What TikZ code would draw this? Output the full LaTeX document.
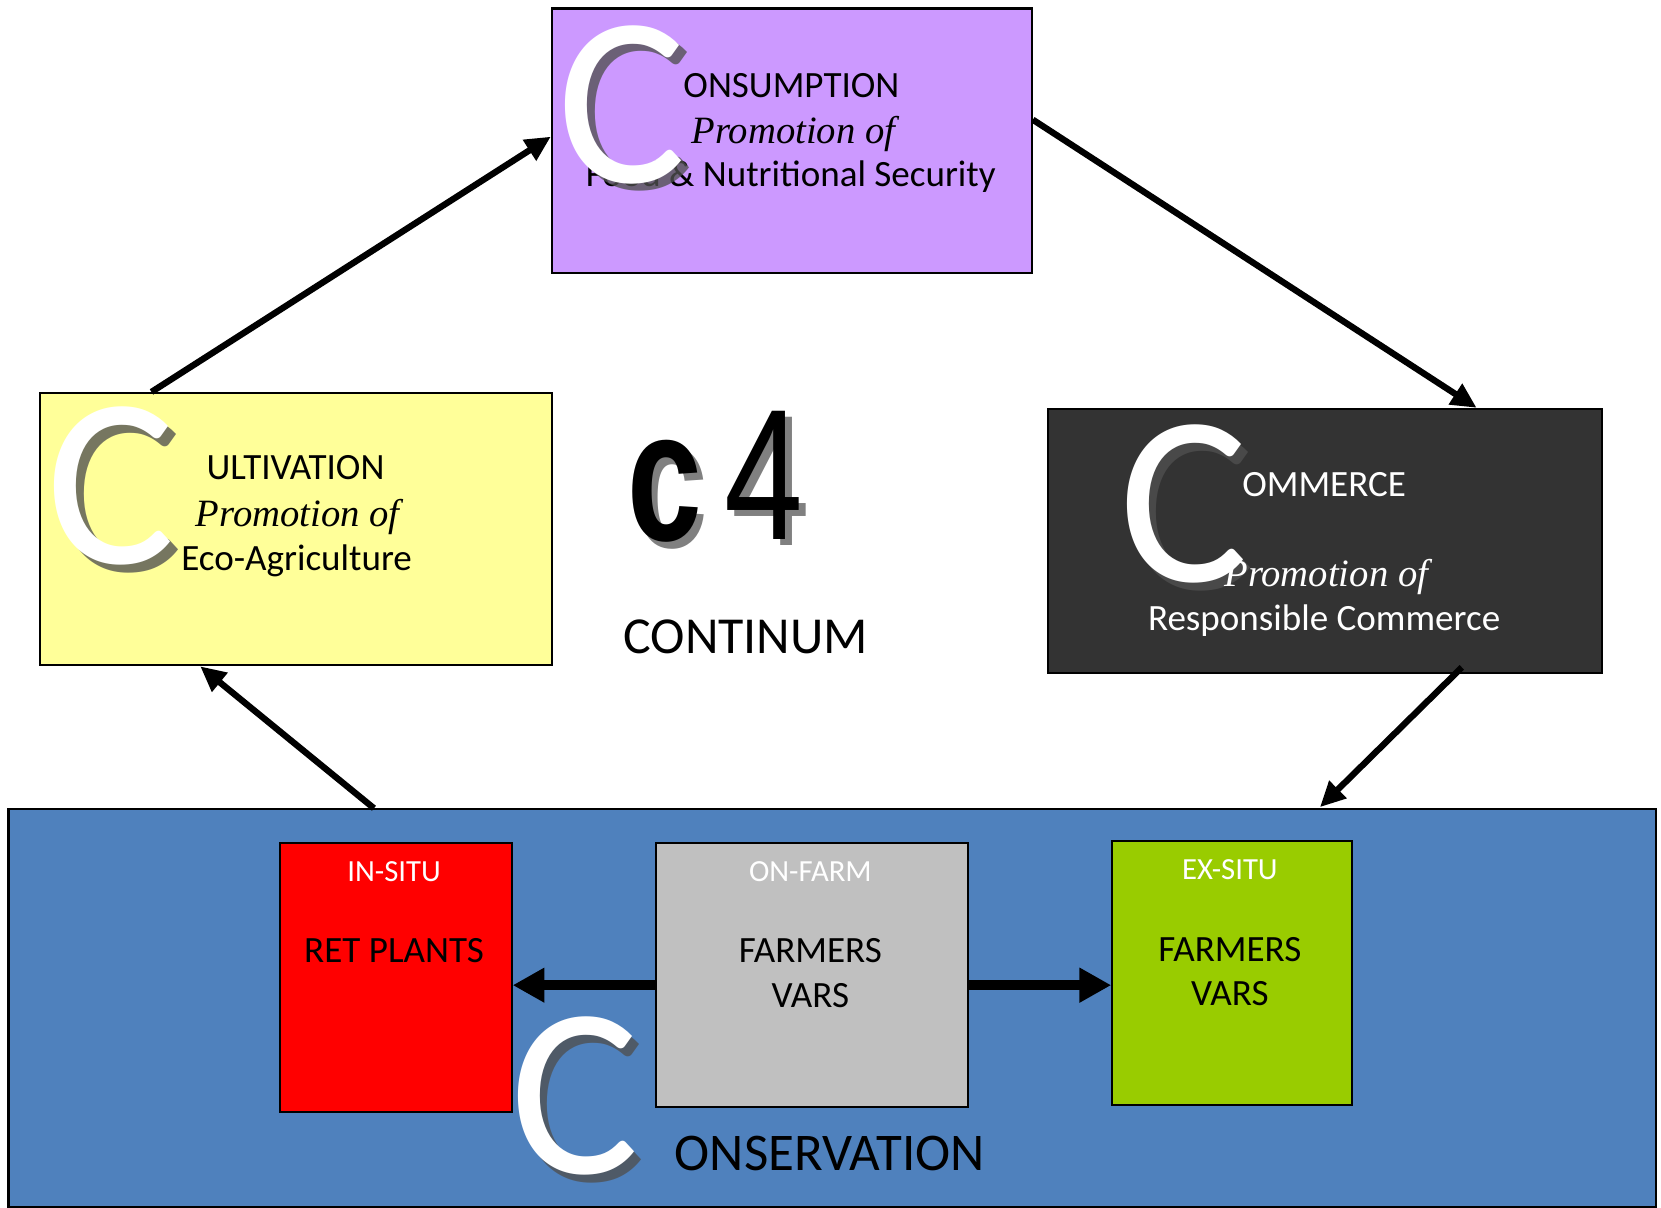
\documentclass[tikz,border=0pt]{standalone}
\usepackage{fontspec}
\setmainfont{Carlito}
\newfontfamily\serifit{Liberation Serif}
\newfontfamily\arialf{Liberation Sans}
\usetikzlibrary{arrows.meta,calc}
\definecolor{consfill}{HTML}{CC99FF}
\definecolor{cultfill}{HTML}{FFFF99}
\definecolor{commfill}{HTML}{333333}
\definecolor{bluefill}{HTML}{4F81BD}
\definecolor{redfill}{HTML}{FF0000}
\definecolor{greyfill}{HTML}{C0C0C0}
\definecolor{greenfill}{HTML}{99CC00}
\definecolor{shadowgray}{HTML}{505050}
\definecolor{cfourshadow}{HTML}{808080}
\tikzset{
  box/.style={draw=black, line width=2pt, inner sep=0pt, anchor=north west},
  txt/.style={inner sep=0pt, anchor=base, font=\fontsize{35}{42}\selectfont},
  small/.style={inner sep=0pt, anchor=base, font=\fontsize{29}{35}\selectfont},
  promo/.style={inner sep=0pt, anchor=base, font=\serifit\itshape\fontsize{36.5}{42}\selectfont},
  bigc/.style={inner sep=0pt, anchor=center, font=\fontsize{228}{228}\selectfont, text=white},
  bigcshadow/.style={bigc, text=shadowgray, text opacity=0.78},
  cfourc/.style={inner sep=0pt, anchor=center, font=\arialf\bfseries\fontsize{176}{176}\selectfont},
  cfourn/.style={inner sep=0pt, anchor=center, font=\arialf\fontsize{176}{176}\selectfont},
  arr/.style={line width=6pt, -{Triangle[length=24pt,width=22pt]}},
  harr/.style={line width=10pt, -{Triangle[length=30pt,width=31pt]}},
}
\begin{document}
\begin{tikzpicture}[x=1pt,y=-1pt]
\useasboundingbox (0,0) rectangle (1568,1140);
% boxes
\node[box, fill=consfill, minimum width=453pt, minimum height=250pt] (cons) at (520,7) {};
\node[box, fill=cultfill, minimum width=483pt, minimum height=257pt] (cult) at (37,370) {};
\node[box, fill=commfill, minimum width=523pt, minimum height=249pt] (comm) at (988,385) {};
\node[box, fill=bluefill, minimum width=1555pt, minimum height=375pt] (blue) at (7,763) {};
\node[box, fill=redfill, minimum width=219pt, minimum height=254pt] (red) at (263,795) {};
\node[box, fill=greyfill, minimum width=295pt, minimum height=249pt] (grey) at (618,795) {};
\node[box, fill=greenfill, minimum width=226pt, minimum height=249pt] (green) at (1049,793) {};

% consumption
\node[txt, anchor=base west] (consA) at (645,92) {ONSUMPTION};
\node[promo] (consB) at (749,135) {Promotion of};
\node[txt] (consD) at (746.5,176) {Food \& Nutritional Security};
\node[bigcshadow] (consCs) at (594.5,106) {C};
\node[bigc] (consC) at (587.5,99) {C};

% cultivation
\node[txt] (cultA) at (279,453) {ULTIVATION};
\node[promo] (cultB) at (281,497) {Promotion of};
\node[txt] (cultD) at (280,539) {Eco-Agriculture};
\node[bigcshadow] (cultCs) at (112,466) {C};
\node[bigc] (cultC) at (105,459) {C};

% commerce
\node[bigcshadow] (commCs) at (1124.5,483) {C};
\node[bigc] (commC) at (1117.5,476) {C};
\node[txt, text=white] (commA) at (1250,469) {OMMERCE};
\node[promo, text=white] (commB) at (1252,554) {Promotion of};
\node[txt, text=white] (commD) at (1250,595) {Responsible Commerce};

% C4 continuum
\node[cfourc, text=cfourshadow] (c4cs) at (633.3,470.2) {\scalebox{0.72}[1]{c}};
\node[cfourc] (c4c) at (627.3,464.2) {\scalebox{0.72}[1]{c}};
\node[cfourn, text=cfourshadow] (c4ns) at (727.4,454.5) {\scalebox{0.76}[1]{4}};
\node[cfourn] (c4n) at (721.4,448.5) {\scalebox{0.76}[1]{4}};
\node[inner sep=0pt, anchor=base, font=\fontsize{49}{55}\selectfont] (cont) at (704,616.5) {CONTINUM};

% conservation sub-boxes
\node[small, text=white] (redA) at (372,832) {IN-SITU};
\node[txt] (redB) at (372,909) {RET PLANTS};
\node[small, text=white] (greyA) at (765,832) {ON-FARM};
\node[txt] (greyB) at (765,909) {FARMERS};
\node[txt] (greyD) at (765,951) {VARS};
\node[small, text=white] (greenA) at (1161,830) {EX-SITU};
\node[txt] (greenB) at (1161,908) {FARMERS};
\node[txt] (greenD) at (1161,949) {VARS};

% conservation label
\node[inner sep=0pt, anchor=base, font=\fontsize{50}{56}\selectfont] (consvA) at (783.4,1104.5) {ONSERVATION};
\node[bigcshadow] (consvCs) at (549.5,1042) {C};
\node[bigc] (consvC) at (542.5,1035) {C};

% connectors
\draw[arr] ($(cult.north west)+(106,0)$) -- ($(cons.north west)+(0,122)$);
\draw[arr] ($(cons.north east)+(0,106)$) -- ($(comm.north west)+(406,0)$);
\draw[arr] ($(comm.south west)+(392,-6)$) -- ($(blue.north west)+(1239,-1)$);
\draw[arr] ($(blue.north west)+(346,0)$) -- ($(cult.south west)+(152,0)$);
\coordinate (hy) at (0,930);
\draw[harr] (grey.west |- hy) -- (red.east |- hy);
\draw[harr] (grey.east |- hy) -- (green.west |- hy);
\end{tikzpicture}
\end{document}
